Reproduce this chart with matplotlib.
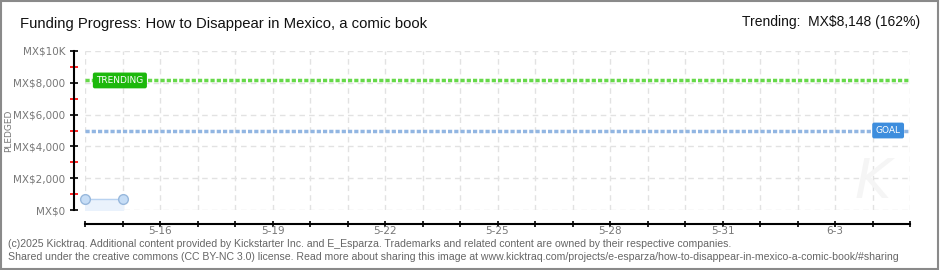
import matplotlib
matplotlib.use("Agg")
import matplotlib.pyplot as plt
from matplotlib.patches import Rectangle

# campaign data
days = ["5-14", "5-15", "5-16", "5-17", "5-18", "5-19", "5-20", "5-21", "5-22", "5-23",
        "5-24", "5-25", "5-26", "5-27", "5-28", "5-29", "5-30", "5-31", "6-1", "6-2",
        "6-3", "6-4", "6-5"]
pledged = [670, 670]
goal = 5000
trending = 8148
ytick_vals = [0, 2000, 4000, 6000, 8000, 10000]
ytick_labels = ["MX$0", "MX$2,000", "MX$4,000", "MX$6,000", "MX$8,000", "MX$10K"]

title = "Funding Progress: How to Disappear in Mexico, a comic book"
trend_text = "Trending:  MX\\$8,148 (162%)"
footer1 = ("(c)2025 Kicktraq. Additional content provided by Kickstarter Inc. and E_Esparza. "
           "Trademarks and related content are owned by their respective companies.")
footer2 = ("Shared under the creative commons (CC BY-NC 3.0) license. Read more about sharing this "
           "image at www.kicktraq.com/projects/e-esparza/how-to-disappear-in-mexico-a-comic-book/#sharing")

narrow = ["Liberation Sans", "DejaVu Sans"]
gray = "#777777"

fig = plt.figure(figsize=(9.4, 2.7), dpi=100)
fig.patches.append(Rectangle((0.001, 0.002), 0.997, 0.995, transform=fig.transFigure,
                             fill=False, edgecolor="#8a8a8a", linewidth=1.5))

ax = fig.add_axes([85 / 940, 60 / 270, 825 / 940, 159 / 270])
x = list(range(len(pledged)))

ax.fill_between(x, pledged, 0, color="#eaf2fc", zorder=2)
ax.plot(x, pledged, color="#b8d2f0", linewidth=1, marker="o", markersize=7,
        markerfacecolor="#c6ddf6", markeredgecolor="#98b8dc", zorder=4, clip_on=False)

ax.axhline(trending, color="#66d94a", linewidth=2.5, linestyle=(0, (1.2, 0.6)), zorder=3)
ax.axhline(goal, color="#92b6e2", linewidth=2.5, linestyle=(0, (1.2, 0.6)), zorder=3)

ax.text(0.3, trending, "TRENDING", fontsize=6.5, color="white", va="center", ha="left",
        family="DejaVu Sans", zorder=5,
        bbox=dict(boxstyle="round,pad=0.3,rounding_size=0.15", fc="#1cb80c", ec="#1cb80c"))
ax.text(21.75, goal, "GOAL", fontsize=6.5, color="white", va="center", ha="right",
        family="DejaVu Sans", zorder=5,
        bbox=dict(boxstyle="round,pad=0.3,rounding_size=0.15", fc="#3d8ddd", ec="#3d8ddd"))

# faint watermark
ax.text(21.0, 1700, "K", fontsize=40, color="#f5f5f5", ha="center", va="center",
        style="italic", zorder=1)

ax.set_xlim(0, len(days) - 1)
ax.set_ylim(0, 10000)
ax.set_xticks(range(len(days)))
ax.set_xticklabels([d if i % 3 == 2 else "" for i, d in enumerate(days)])
ax.set_yticks(ytick_vals)
ax.set_yticklabels(ytick_labels)
ax.set_yticks(range(1000, 10000, 2000), minor=True)

ax.grid(True, color="#e2e2e2", linestyle=(0, (4, 3)), linewidth=1)
ax.set_axisbelow(True)

for s in ["top", "right"]:
    ax.spines[s].set_visible(False)
ax.spines["left"].set_position(("outward", 8))
ax.spines["bottom"].set_position(("outward", 10))
ax.spines["left"].set_linewidth(1.5)
ax.spines["bottom"].set_linewidth(1.5)
ax.tick_params(axis="both", which="major", direction="inout", length=6, width=1.2,
               labelsize=7.5, colors="black")
ax.tick_params(axis="x", which="major", length=5, pad=-1)
ax.tick_params(axis="y", which="major", pad=3)
ax.tick_params(axis="y", which="minor", direction="inout", length=6, width=1.2, color="red")
for lbl in ax.get_xticklabels() + ax.get_yticklabels():
    lbl.set_color(gray)
ax.set_ylabel("PLEDGED", fontsize=6.5, color=gray)
ax.yaxis.set_label_coords(-72 / 825, 0.5)

fig.text(20 / 940, 1 - 24 / 270, title, fontsize=10.7, family=narrow, color="#111111",
         va="center", ha="left")
fig.text(920 / 940, 1 - 22 / 270, trend_text, fontsize=10, family=narrow, color="#111111",
         va="center", ha="right")
fig.text(8 / 940, 1 - 244 / 270, footer1, fontsize=7.6, family=narrow, color="#666666",
         va="center", ha="left")
fig.text(8 / 940, 1 - 257 / 270, footer2, fontsize=7.6, family=narrow, color="#666666",
         va="center", ha="left")

fig.savefig("out.png", dpi=100)
